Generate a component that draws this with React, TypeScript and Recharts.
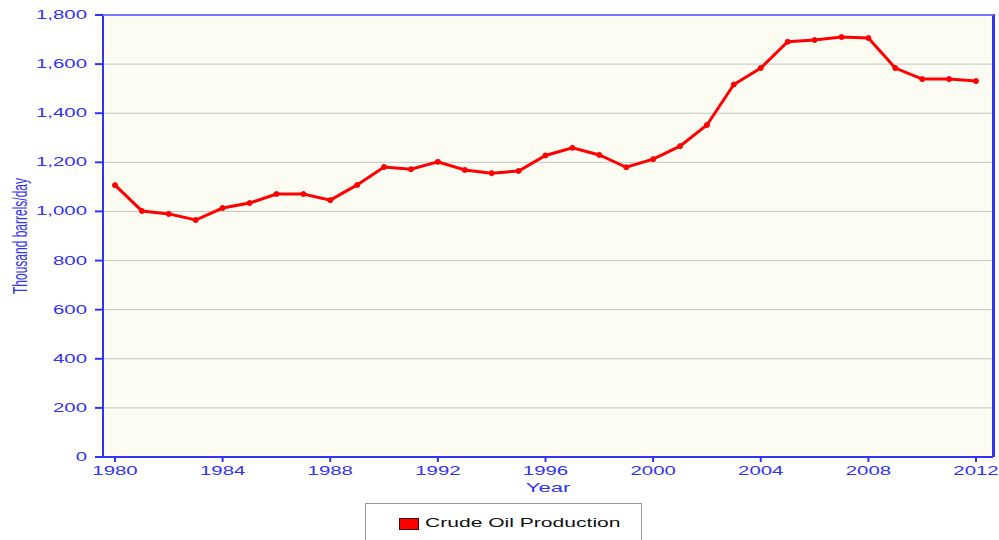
import React from 'react';
import { LineChart, Line, XAxis, YAxis, CartesianGrid } from 'recharts';

// annual values
const years = [
  1980, 1981, 1982, 1983, 1984, 1985, 1986, 1987, 1988, 1989, 1990,
  1991, 1992, 1993, 1994, 1995, 1996, 1997, 1998, 1999, 2000, 2001,
  2002, 2003, 2004, 2005, 2006, 2007, 2008, 2009, 2010, 2011, 2012,
];
const production = [
  1107, 1002, 990, 965, 1014, 1034, 1071, 1071, 1046, 1108, 1181,
  1172, 1202, 1169, 1156, 1165, 1228, 1259, 1230, 1180, 1213, 1266,
  1352, 1517, 1584, 1691, 1698, 1710, 1706, 1584, 1539, 1539, 1531,
];
const xTicks = [1980, 1984, 1988, 1992, 1996, 2000, 2004, 2008, 2012];
const yTicks = [0, 200, 400, 600, 800, 1000, 1200, 1400, 1600, 1800];

const data = years.map((y, i) => ({ year: y, value: production[i] }));

const BLUE = '#3232f5';
const FONT = '"Liberation Sans", Arial, sans-serif';
const SX = 1.7; // the source picture is stretched sideways

const YTick = (props: any) => {
  const { x, y, payload } = props;
  return (
    <text
      transform={`translate(${x},${y}) scale(${SX},1)`}
      textAnchor="end"
      dy={4}
      fill={BLUE}
      fontSize={12}
      fontFamily={FONT}
    >
      {payload.value.toLocaleString('en-US')}
    </text>
  );
};

const XTick = (props: any) => {
  const { x, y, payload } = props;
  return (
    <text
      transform={`translate(${x},${y}) scale(${SX},1)`}
      textAnchor="middle"
      dy={11}
      fill={BLUE}
      fontSize={12}
      fontFamily={FONT}
    >
      {payload.value}
    </text>
  );
};

export default function App() {
  return (
    <div style={{ position: 'absolute', left: 0, top: 0, width: 999, height: 540, background: '#fff' }}>
      <LineChart width={999} height={540} data={data} margin={{ top: 15, right: 6, bottom: 53, left: 0 }}>
        <CartesianGrid vertical={false} stroke="#c4c4c4" fill="#fcfcf3" />
        <XAxis
          dataKey="year"
          type="number"
          domain={[1980, 2012]}
          ticks={xTicks}
          padding={{ left: 12, right: 17 }}
          height={30}
          stroke={BLUE}
          strokeWidth={2}
          tickSize={5}
          tickMargin={2}
          tick={<XTick />}
          label={{
            content: () => (
              <text
                transform={`translate(548,492) scale(${SX},1)`}
                textAnchor="middle"
                fill={BLUE}
                fontSize={13}
                fontFamily={FONT}
              >
                Year
              </text>
            ),
          }}
        />
        <YAxis
          domain={[0, 1800]}
          ticks={yTicks}
          width={103}
          stroke={BLUE}
          strokeWidth={2}
          tickSize={8}
          tickMargin={8}
          tick={<YTick />}
          interval={0}
          label={{
            content: () => (
              <text
                transform={`translate(27,236) scale(${SX},1) rotate(-90)`}
                textAnchor="middle"
                fill={BLUE}
                fontSize={12}
                fontFamily={FONT}
              >
                Thousand barrels/day
              </text>
            ),
          }}
        />
        <Line
          dataKey="value"
          stroke="#ff0000"
          strokeWidth={3}
          dot={{ r: 2.5, fill: '#ff0000', stroke: '#ff0000', strokeWidth: 1 }}
          isAnimationActive={false}
        />
      </LineChart>
      {/* top and right frame of the plot area */}
      <div
        style={{
          position: 'absolute',
          left: 103,
          top: 14,
          width: 892,
          height: 443,
          borderTop: '2px solid #7878ff',
          borderRight: `3px solid ${BLUE}`,
          boxSizing: 'border-box',
          pointerEvents: 'none',
        }}
      />
      <div
        style={{
          position: 'absolute',
          left: 365,
          top: 503,
          width: 277,
          height: 50,
          border: '1px solid #999',
          background: '#fff',
          boxSizing: 'border-box',
        }}
      >
        <div
          style={{
            position: 'absolute',
            left: 33,
            top: 14,
            width: 18,
            height: 10,
            background: '#ff0000',
            border: '1px solid #400',
          }}
        />
        <div
          style={{
            position: 'absolute',
            left: 59,
            top: 11,
            fontFamily: FONT,
            fontSize: 13,
            color: '#111',
            whiteSpace: 'nowrap',
            transform: 'scaleX(1.62)',
            transformOrigin: 'left center',
          }}
        >
          Crude Oil Production
        </div>
      </div>
    </div>
  );
}
